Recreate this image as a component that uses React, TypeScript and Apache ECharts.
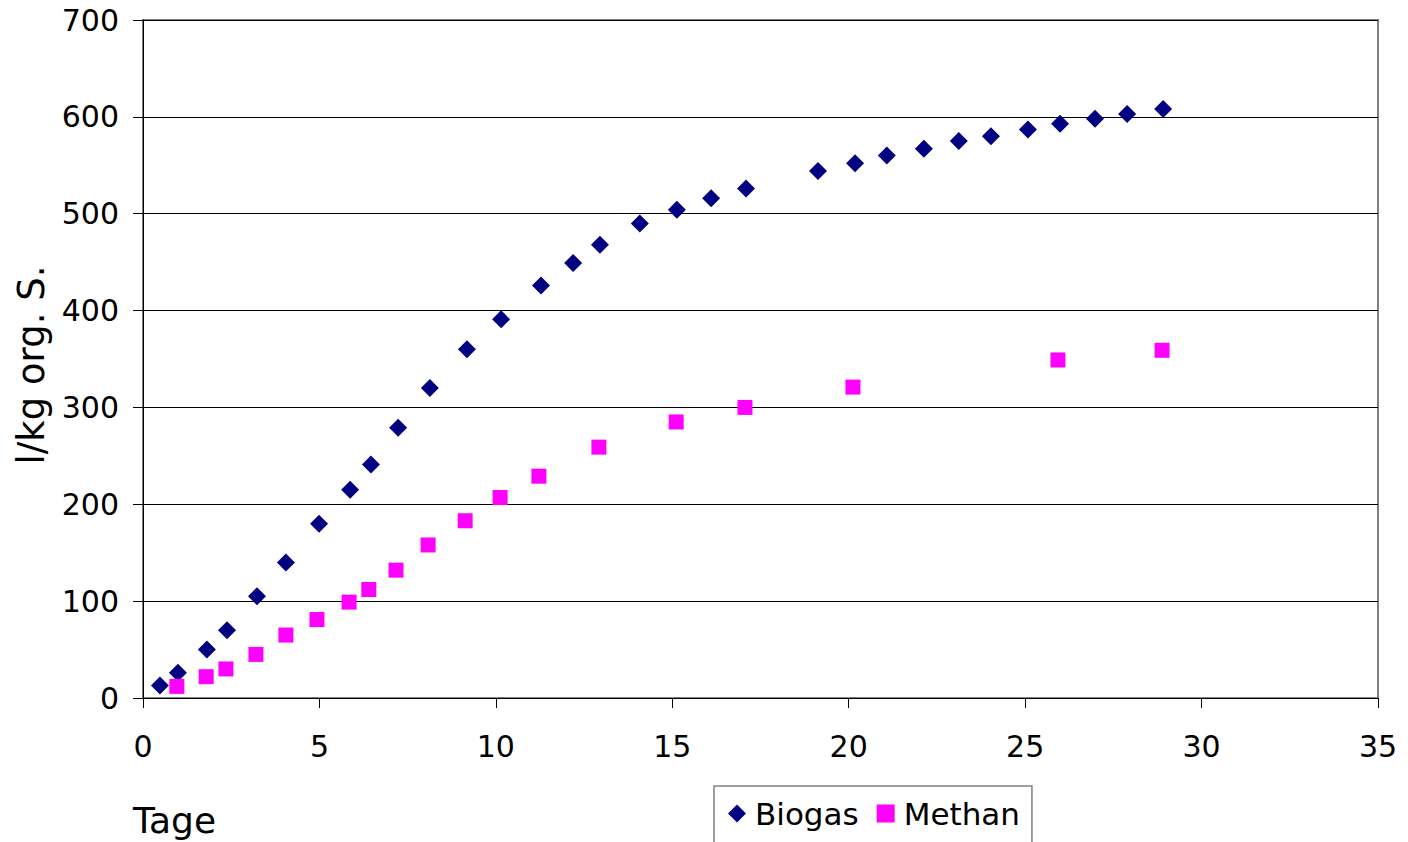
import React, { useEffect, useRef } from "react";
import * as echarts from "echarts";

const biogasX = [0.48, 0.99, 1.81, 2.38, 3.23, 4.05, 4.99, 5.87, 6.46, 7.23, 8.13, 9.18, 10.15, 11.28, 12.19, 12.95, 14.08, 15.13, 16.1, 17.09, 19.13, 20.18, 21.08, 22.13, 23.12, 24.03, 25.08, 25.99, 26.98, 27.89, 28.91];
const biogasY = [13, 26, 50, 70, 105, 140, 180, 215, 241, 279, 320, 360, 391, 426, 449, 468, 490, 504, 516, 526, 544, 552, 560, 567, 575, 580, 587, 593, 598, 603, 608];
const methanX = [0.96, 1.79, 2.35, 3.2, 4.05, 4.93, 5.84, 6.4, 7.17, 8.08, 9.13, 10.12, 11.22, 12.92, 15.11, 17.06, 20.12, 25.93, 28.88];
const methanY = [12, 22, 30, 45, 65, 81, 99, 112, 132, 158, 183, 207, 229, 259, 285, 300, 321, 349, 359];

const FONT = "DejaVu Sans, Verdana, sans-serif";

export default function App() {
  const ref = useRef<HTMLDivElement>(null);
  useEffect(() => {
    if (!ref.current) return;
    const chart = echarts.init(ref.current, undefined, { renderer: "svg" });
    chart.setOption({
      animation: false,
      backgroundColor: "#ffffff",
      textStyle: { fontFamily: FONT },
      grid: {
        left: 143,
        right: 30,
        top: 20,
        bottom: 144,
        show: true,
        borderColor: "#808080",
        borderWidth: 2,
        backgroundColor: "transparent",
      },
      legend: {
        left: 714,
        top: 786,
        orient: "horizontal",
        padding: [12, 12, 14, 14],
        borderColor: "#808080",
        borderWidth: 1.5,
        borderRadius: 0,
        itemWidth: 18,
        itemHeight: 18,
        itemGap: 18,
        textStyle: { fontFamily: FONT, fontSize: 31, color: "#000", padding: [0, 0, 0, 4] },
        data: [
          { name: "Biogas", icon: "diamond" },
          { name: "Methan", icon: "rect" },
        ],
      },
      xAxis: {
        type: "value",
        min: 0,
        max: 35,
        interval: 5,
        axisLine: { show: true, onZero: false, lineStyle: { color: "#000", width: 1 } },
        axisTick: { show: true, length: 10, lineStyle: { color: "#000" } },
        axisLabel: { fontFamily: FONT, fontSize: 30, color: "#000", margin: 33 },
        splitLine: { show: false },
      },
      yAxis: {
        type: "value",
        min: 0,
        max: 700,
        interval: 100,
        axisLine: { show: true, lineStyle: { color: "#000", width: 1 } },
        axisTick: { show: true, length: 10, lineStyle: { color: "#000" } },
        axisLabel: { fontFamily: FONT, fontSize: 30, color: "#000", margin: 24 },
        splitLine: { show: true, lineStyle: { color: "#000", width: 1 } },
      },
      graphic: [
        {
          type: "text",
          left: 133,
          top: 802,
          style: { text: "Tage", fontFamily: FONT, fontSize: 36, fill: "#000" },
        },
        {
          type: "text",
          x: 31,
          y: 365,
          rotation: Math.PI / 2,
          style: {
            text: "l/kg org. S.",
            fontFamily: FONT,
            fontSize: 37,
            fill: "#000",
            align: "center",
            verticalAlign: "middle",
          },
        },
      ],
      series: [
        {
          name: "Biogas",
          type: "scatter",
          symbol: "diamond",
          symbolSize: 18,
          itemStyle: { color: "#000080", opacity: 1 },
          data: biogasX.map((x, i) => [x, biogasY[i]]),
        },
        {
          name: "Methan",
          type: "scatter",
          symbol: "rect",
          symbolSize: 15,
          itemStyle: { color: "#ff00ff", opacity: 1 },
          data: methanX.map((x, i) => [x, methanY[i]]),
        },
      ],
    });
    return () => chart.dispose();
  }, []);
  return (
    <div
      ref={ref}
      style={{ position: "fixed", left: 0, top: 0, width: 1408, height: 842, background: "#fff" }}
    />
  );
}
